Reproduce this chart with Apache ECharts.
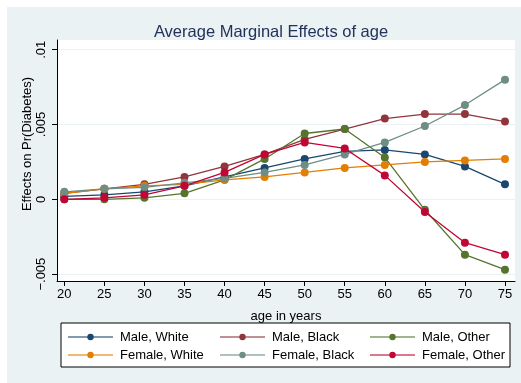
<!DOCTYPE html>
<html>
<head>
<meta charset="utf-8">
<script src="https://cdn.jsdelivr.net/npm/echarts@6/dist/echarts.min.js"></script>
<style>
  html, body { margin: 0; padding: 0; background: #ffffff; }
  #chart { width: 521px; height: 383px; }
</style>
</head>
<body>
<div id="chart"></div>
<script>
// Ages at which the marginal effects are evaluated
const ages = [20, 25, 30, 35, 40, 45, 50, 55, 60, 65, 70, 75];

// Average marginal effect of age on Pr(Diabetes), by sex and race
const maleWhite   = [0.0002, 0.0003, 0.0005, 0.0009, 0.0015, 0.0021, 0.0027, 0.0032, 0.0033, 0.0030, 0.0022, 0.0010];
const maleBlack   = [0.0004, 0.0007, 0.0010, 0.0015, 0.0022, 0.0030, 0.0040, 0.0047, 0.0054, 0.0057, 0.0057, 0.0052];
const maleOther   = [0.0000, 0.0000, 0.0001, 0.0004, 0.0013, 0.0027, 0.0044, 0.0047, 0.0028, -0.0007, -0.0037, -0.0047];
const femaleWhite = [0.0004, 0.0007, 0.0009, 0.0010, 0.0013, 0.0015, 0.0018, 0.0021, 0.0023, 0.0025, 0.0026, 0.0027];
const femaleBlack = [0.0005, 0.0007, 0.0008, 0.0011, 0.0014, 0.0018, 0.0023, 0.0030, 0.0038, 0.0049, 0.0063, 0.0080];
const femaleOther = [0.0000, 0.0001, 0.0003, 0.0009, 0.0018, 0.0030, 0.0038, 0.0034, 0.0016, -0.00085, -0.0029, -0.0037];

// Tick positions and their labels
const xTicks = [20, 25, 30, 35, 40, 45, 50, 55, 60, 65, 70, 75];
const yTicks = [-0.005, 0, 0.005, 0.01];
const yTickLabels = ['\u2212.005', '0', '.005', '.01'];

const seriesNames = ['Male, White', 'Male, Black', 'Male, Other', 'Female, White', 'Female, Black', 'Female, Other'];
const seriesValues = [maleWhite, maleBlack, maleOther, femaleWhite, femaleBlack, femaleOther];
const seriesColors = ['#1a476f', '#90353b', '#55752f', '#e37e00', '#6e8e84', '#c10534'];

const FONT = '"Liberation Sans", Arial, Helvetica, sans-serif';

const chart = echarts.init(document.getElementById('chart'), null, { renderer: 'canvas' });

const series = seriesNames.map((name, i) => ({
  name: name,
  type: 'line',
  data: ages.map((a, j) => [a, seriesValues[i][j]]),
  symbol: 'circle',
  symbolSize: 8,
  showSymbol: true,
  lineStyle: { color: seriesColors[i], width: 1.3 },
  itemStyle: { color: seriesColors[i] },
  emphasis: { disabled: true },
  animation: false
}));

function legendColumn(left, names) {
  return {
    orient: 'vertical',
    left: left,
    top: 330,
    padding: 0,
    itemWidth: 45,
    itemHeight: 8,
    itemGap: 4,
    selectedMode: false,
    data: names,
    lineStyle: { opacity: 0.55, width: 2 },
    textStyle: { fontFamily: FONT, fontSize: 13, color: '#000', lineHeight: 14, padding: [0, 0, 0, 2] }
  };
}

chart.setOption({
  backgroundColor: '#eaf2f3',
  animation: false,
  title: {
    text: 'Average Marginal Effects of age',
    left: 266,
    top: 19,
    textAlign: 'center',
    textStyle: { fontFamily: FONT, fontSize: 16.5, fontWeight: 'normal', color: '#23325a' }
  },
  grid: {
    left: 57, right: 6, top: 40, bottom: 102,
    show: true, backgroundColor: '#ffffff', borderWidth: 0
  },
  xAxis: {
    type: 'value',
    min: 19.09,
    max: 76.25,
    name: 'age in years',
    nameLocation: 'middle',
    nameGap: 29,
    nameTextStyle: { fontFamily: FONT, fontSize: 13, color: '#000' },
    axisLine: { show: true, onZero: false, lineStyle: { color: '#000', width: 1 } },
    axisTick: { show: true, length: 5, customValues: xTicks, lineStyle: { color: '#000' } },
    axisLabel: { customValues: xTicks, margin: 7, fontFamily: FONT, fontSize: 13, color: '#000' },
    splitLine: { show: false }
  },
  yAxis: {
    type: 'value',
    min: -0.00546,
    max: 0.01065,
    axisLine: { show: true, onZero: false, lineStyle: { color: '#000', width: 1 } },
    axisTick: { show: true, length: 5, customValues: yTicks, lineStyle: { color: '#000' } },
    axisLabel: {
      customValues: yTicks,
      rotate: 90,
      margin: 9,
      fontFamily: FONT, fontSize: 13, color: '#000',
      formatter: v => {
        const k = yTicks.findIndex(t => Math.abs(t - v) < 1e-9);
        return k >= 0 ? yTickLabels[k] : '';
      }
    },
    splitLine: { show: true, lineStyle: { color: '#eaf2f3', width: 1.2 } }
  },
  legend: [
    legendColumn(67, [seriesNames[0], seriesNames[3]]),
    legendColumn(219, [seriesNames[1], seriesNames[4]]),
    legendColumn(369, [seriesNames[2], seriesNames[5]])
  ],
  graphic: [
    { type: 'rect', shape: { x: 0, y: 0, width: 521, height: 7 }, style: { fill: '#ffffff' }, silent: true, z: -10 },
    { type: 'rect', shape: { x: 0, y: 0, width: 7, height: 383 }, style: { fill: '#ffffff' }, silent: true, z: -10 },
    { type: 'rect', shape: { x: 61, y: 323, width: 449, height: 44 }, style: { fill: '#ffffff', stroke: '#000', lineWidth: 1 }, silent: true, z: -5 },
    {
      type: 'text',
      x: 27, y: 144,
      rotation: Math.PI / 2,
      style: { text: 'Effects on Pr(Diabetes)', fontFamily: FONT, fontSize: 13, fill: '#000', align: 'center', verticalAlign: 'middle' },
      silent: true
    }
  ],
  series: series
});
</script>
</body>
</html>
